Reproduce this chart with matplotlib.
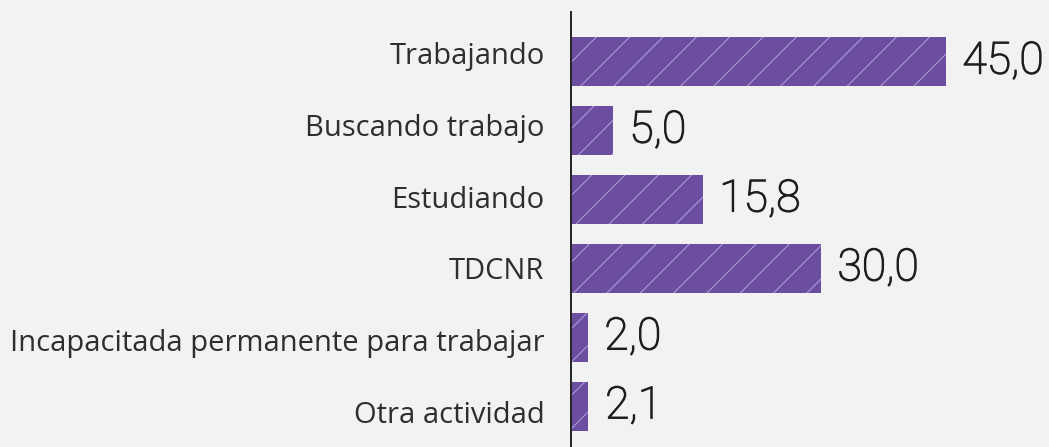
import matplotlib
matplotlib.use('Agg')
import matplotlib.pyplot as plt
import matplotlib.patheffects as pe

categories = ['Trabajando', 'Buscando trabajo', 'Estudiando', 'TDCNR',
              'Incapacitada permanente para trabajar', 'Otra actividad']
values = [45.0, 5.0, 15.8, 30.0, 2.0, 2.1]
labels = ['45,0', '5,0', '15,8', '30,0', '2,0', '2,1']

DPI = 100
plt.rcParams['hatch.linewidth'] = 0.7

fig = plt.figure(figsize=(1049/DPI, 447/DPI), dpi=DPI)
fig.patch.set_facecolor('#f2f2f2')
ax = fig.add_axes([571/1049, 0, 1-571/1049, 1-12/447])
ax.set_facecolor('none')

y = list(range(len(categories)))
ax.barh(y, values, height=0.71, color='#6c4ea0', edgecolor='#b6a3d8',
        linewidth=0, hatch='/')

for yi, v, lab in zip(y, values, labels):
    ax.text(v + 2.0, yi, lab, va='center', ha='left', fontsize=32,
            family='Roboto', fontweight='light', color='#1e1e1e',
            path_effects=[pe.withStroke(linewidth=0.9, foreground='#1e1e1e')])

ax.set_xlim(0, 57.4)
ax.set_ylim(5.594, -0.717)
# category labels sit on a slightly wider pitch than the bars
ax.set_yticks([i * 1.04 - 0.12 for i in y])
ax.set_yticklabels(categories, fontsize=21, family='Open Sans', color='#2e2e2e')
ax.tick_params(axis='y', length=0, pad=19)
ax.set_xticks([])
for s in ['top', 'right', 'bottom']:
    ax.spines[s].set_visible(False)
ax.spines['left'].set_color('#222222')
ax.spines['left'].set_linewidth(1.4)

fig.savefig('out.png', dpi=DPI, facecolor=fig.get_facecolor())
